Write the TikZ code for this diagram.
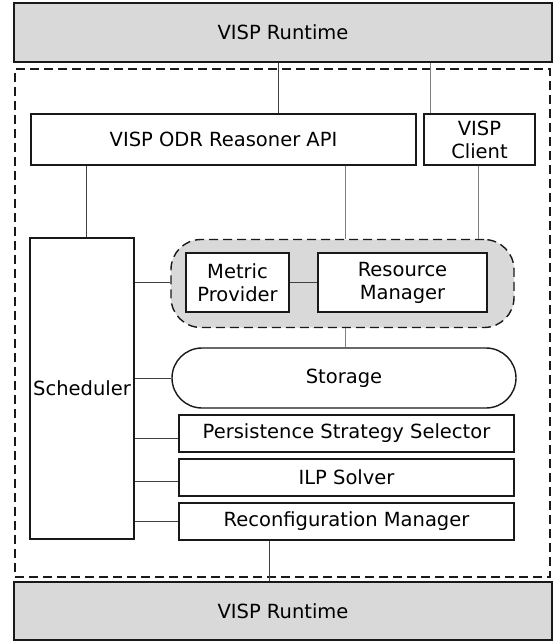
\documentclass[tikz,border=0pt]{standalone}
\usepackage{fontspec}
\setmainfont{DejaVu Sans}
\begin{document}
\begin{tikzpicture}[x=1pt,y=-1pt,
  box/.style={draw=black!90, line width=1.4pt, fill=white, inner sep=0pt, align=center, font=\fontsize{19.5}{23}\selectfont},
  rt/.style={box, fill=black!15},
  conn/.style={draw=black!75, line width=0.9pt},
  thin/.style={draw=black!50, line width=0.8pt},
  dsh/.style={draw=black!90, line width=1.4pt, dash pattern=on 9pt off 5pt}]
\useasboundingbox (0,0) rectangle (554,643);
% container
\node[dsh, minimum width=535pt, minimum height=508pt, inner sep=0pt] (cont) at (282.5,323) {};
% runtimes
\node[rt, minimum width=538pt, minimum height=59pt] (rtop) at (283,32.5) {VISP Runtime};
\node[rt, minimum width=538pt, minimum height=58pt] (rbot) at (283,611) {VISP Runtime};
% top boxes
\node[box, minimum width=385pt, minimum height=51pt] (api) at (223.5,139.5) {VISP ODR Reasoner API};
\node[box, minimum width=111pt, minimum height=51pt] (client) at (479.5,139.5) {VISP\\Client};
% scheduler
\node[box, minimum width=104pt, minimum height=301pt] (sched) at (82,388.5) {Scheduler};
% group
\node[dsh, fill=black!15, rounded corners=30pt, minimum width=343pt, minimum height=88pt] (grp) at (342.5,283.5) {};
\node[box, minimum width=103pt, minimum height=59pt] (metric) at (237.5,282.5) {Metric\\Provider};
\node[box, minimum width=169pt, minimum height=59pt] (resmgr) at (402.5,282.5) {Resource\\Manager};
% storage
\node[box, rounded corners=30pt, minimum width=344pt, minimum height=60pt] (stor) at (344,378) {Storage};
% lower boxes
\node[box, minimum width=335pt, minimum height=37pt] (pss) at (346.5,433.5) {Persistence Strategy Selector};
\node[box, minimum width=335pt, minimum height=37pt] (ilp) at (346.5,477.5) {ILP Solver};
\node[box, minimum width=335pt, minimum height=37pt] (reconf) at (346.5,521.5) {Reconfiguration Manager};
% helper coordinates for vertical connector positions
\coordinate (xa) at (278,0);
\coordinate (xb) at (430,0);
\coordinate (xc) at (86,0);
\coordinate (xd) at (345,0);
\coordinate (xe) at (478,0);
\coordinate (xf) at (269,0);
\coordinate (ya) at (0,438);
\coordinate (yb) at (0,481);
\coordinate (yc) at (0,521);
\coordinate (yd) at (0,282);
% connectors
\draw[conn] (rtop.south -| xa) -- (api.north -| xa);
\draw[thin] (rtop.south -| xb) -- (client.north -| xb);
\draw[conn] (api.south -| xc) -- (sched.north -| xc);
\draw[thin] (api.south -| xd) -- (grp.north -| xd);
\draw[thin] (client.south -| xe) -- (grp.north -| xe);
\draw[conn] (sched.east |- yd) -- (grp.west |- yd);
\draw[conn] (metric.east |- yd) -- (resmgr.west |- yd);
\draw[thin] (grp.south -| xd) -- (stor.north -| xd);
\draw[conn] (sched.east |- stor.west) -- (stor.west);
\draw[conn] (sched.east |- ya) -- (pss.west |- ya);
\draw[conn] (sched.east |- yb) -- (ilp.west |- yb);
\draw[conn] (sched.east |- yc) -- (reconf.west |- yc);
\draw[conn] (reconf.south -| xf) -- (rbot.north -| xf);
\end{tikzpicture}
\end{document}
